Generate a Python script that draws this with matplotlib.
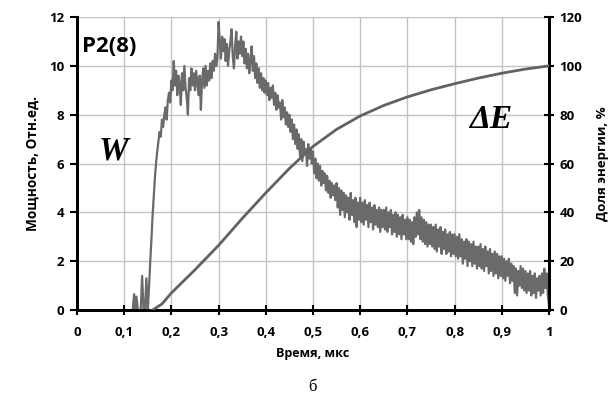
import numpy as np
import matplotlib
matplotlib.use("Agg")
import matplotlib.pyplot as plt

# Pre-pulse spikes before the main rise
spike_time = [0.118, 0.121, 0.124, 0.126, 0.129, 0.132, 0.135, 0.138, 0.141, 0.144, 0.147]
spike_power = [0.0, 0.65, 0.0, 0.55, 0.0, 0.0, 0.0, 1.4, 0.0, 0.0, 1.3]

# Power W, sampled every 0.0025 us from 0.15 to 1.0 us
power = [
    0.0, 0.9, 1.9, 2.8, 3.8, 4.6, 5.4, 6.0, 6.5, 6.9, 7.3, 7.1, 7.8, 7.5, 8.0, 8.3, 7.8, 8.6, 8.9, 8.5,
    9.4, 9.0, 10.2, 9.2, 9.8, 8.8, 9.6, 9.3, 8.4, 9.7, 9.0, 10.0, 9.1, 8.7, 8.0, 9.5, 9.0, 9.9, 9.2, 9.7,
    9.0, 9.8, 9.3, 8.8, 9.6, 8.2, 9.4, 9.9, 9.1, 10.0, 9.2, 9.8, 9.4, 10.1, 9.5, 10.2, 9.8, 10.5, 10.0, 10.3,
    11.8, 11.0, 10.3, 11.2, 10.6, 11.1, 10.2, 10.9, 10.0, 10.6, 11.0, 11.5, 10.4, 9.9, 10.8, 11.4, 10.3, 11.0, 10.5, 11.2,
    10.4, 11.0, 10.1, 10.7, 9.9, 10.5, 9.7, 10.2, 10.8, 9.8, 10.4, 9.5, 10.1, 9.3, 9.9, 9.1, 9.7, 9.0, 9.5, 8.9,
    9.4, 8.8, 9.3, 8.6, 9.1, 8.7, 9.2, 8.4, 8.9, 8.2, 8.8, 8.3, 8.5, 7.8, 8.6, 7.9, 8.3, 7.6, 8.1, 7.5,
    8.0, 7.3, 7.8, 7.0, 7.6, 6.8, 7.4, 6.6, 7.2, 6.3, 7.0, 6.1, 6.9, 6.4, 6.6, 5.9, 6.8, 6.2, 6.6, 6.0,
    6.5, 5.6, 6.2, 5.4, 6.0, 5.3, 5.9, 5.1, 5.7, 5.2, 5.6, 4.9, 5.5, 4.8, 5.3, 4.6, 5.2, 4.7, 5.1, 4.5,
    5.2, 4.2, 5.0, 3.9, 4.9, 4.1, 4.8, 3.8, 4.7, 4.0, 4.6, 3.7, 4.8, 3.9, 4.5, 3.6, 4.6, 3.4, 4.4, 3.7,
    4.6, 3.6, 4.4, 3.5, 4.5, 3.7, 4.3, 3.4, 4.4, 3.6, 4.2, 3.3, 4.3, 3.5, 4.1, 3.4, 4.2, 3.2, 4.1, 3.4,
    4.1, 3.3, 4.2, 3.2, 4.0, 3.4, 4.1, 3.1, 3.9, 3.2, 4.0, 3.0, 3.9, 3.1, 3.8, 2.9, 3.9, 3.1, 3.7, 2.9,
    3.8, 2.9, 3.7, 2.8, 3.6, 2.7, 3.8, 3.0, 4.0, 3.1, 4.1, 2.9, 3.8, 2.8, 3.7, 2.7, 3.6, 2.6, 3.5, 2.7,
    3.5, 2.6, 3.4, 2.5, 3.5, 2.4, 3.3, 2.6, 3.4, 2.3, 3.2, 2.5, 3.3, 2.3, 3.1, 2.4, 3.2, 2.2, 3.1, 2.3,
    3.1, 2.2, 3.0, 2.1, 3.1, 2.2, 2.9, 1.9, 2.8, 2.1, 2.9, 1.8, 2.8, 2.0, 2.7, 1.8, 2.8, 1.9, 2.6, 1.7,
    2.6, 1.8, 2.7, 1.7, 2.5, 1.6, 2.6, 1.8, 2.4, 1.5, 2.5, 1.6, 2.3, 1.4, 2.4, 1.5, 2.3, 1.3, 2.2, 1.4,
    2.2, 1.3, 2.1, 1.2, 2.0, 1.4, 2.1, 1.1, 1.9, 1.2, 1.8, 0.7, 1.7, 0.6, 1.6, 1.0, 1.8, 0.9, 1.7, 0.8,
    1.6, 0.7, 1.5, 0.8, 1.6, 0.6, 1.4, 0.7, 1.5, 0.5, 1.3, 0.8, 1.4, 0.6, 1.5, 0.7, 1.7, 0.9, 1.5, 0.6,
    0.2,
]
power_time = np.linspace(0.15, 1.0, len(power))

# Cumulative energy share, %
energy_time = [0.16, 0.18, 0.2, 0.25, 0.3, 0.35, 0.4, 0.45, 0.5, 0.55,
               0.6, 0.65, 0.7, 0.75, 0.8, 0.85, 0.9, 0.95, 1.0]
energy_share = [0.0, 2.5, 7.0, 16.5, 26.5, 37.5, 48.0, 58.0, 67.0, 74.0,
                79.5, 83.8, 87.3, 90.2, 92.7, 95.0, 97.0, 98.7, 100.0]

x_ticks = [0, 0.1, 0.2, 0.3, 0.4, 0.5, 0.6, 0.7, 0.8, 0.9, 1.0]
x_labels = ["0", "0,1", "0,2", "0,3", "0,4", "0,5", "0,6", "0,7", "0,8", "0,9", "1"]
w_ticks = [0, 2, 4, 6, 8, 10, 12]
e_ticks = [0, 20, 40, 60, 80, 100, 120]

plt.rcParams["font.family"] = ["Open Sans", "DejaVu Sans"]
plt.rcParams["font.weight"] = "bold"

fig = plt.figure(figsize=(6.11, 3.97), dpi=100)
ax = fig.add_axes([0.126, 0.219, 0.7725, 0.738])
ax2 = ax.twinx()

grid_color = "#cbbfbf"
line_color = "#6a6a6a"

ax.set_xlim(0, 1)
ax.set_ylim(0, 12)
ax2.set_ylim(0, 120)

ax.set_xticks(x_ticks)
ax.set_xticklabels(x_labels)
ax.set_yticks(w_ticks)
ax2.set_yticks(e_ticks)
ax.grid(True, color=grid_color, lw=1.0)
ax.set_axisbelow(True)

t_all = np.concatenate([spike_time, power_time])
p_all = np.concatenate([spike_power, power])
ax.plot(t_all, p_all, color=line_color, lw=1.6, zorder=3)
ax2.plot(energy_time, energy_share, color="#626262", lw=2.0, zorder=3)

for a in (ax, ax2):
    a.spines["top"].set_visible(False)
    for s in ("left", "right", "bottom"):
        a.spines[s].set_linewidth(2.0)
        a.spines[s].set_color("black")

ax.tick_params(axis="y", direction="out", length=5, width=1.5, labelsize=9.5, pad=4)
ax.tick_params(axis="x", direction="inout", length=7, width=1.5, labelsize=9.5, pad=8)
ax2.tick_params(axis="y", direction="inout", length=7, width=1.5, labelsize=9.5, pad=4)
for lab in ax.get_xticklabels() + ax.get_yticklabels() + ax2.get_yticklabels():
    lab.set_fontweight("bold")

ax.set_xlabel("Время, мкс", fontsize=9, fontweight="bold", labelpad=6)
ax.set_ylabel("Мощность, Отн.ед.", fontsize=9.8, fontweight="bold", labelpad=7)
ax2.set_ylabel("Доля энергии, %", fontsize=9.5, fontweight="bold", labelpad=10)

ax.text(0.01, 0.935, "P2(8)", transform=ax.transAxes, fontsize=16,
        fontweight="bold", va="top", ha="left")
ax.text(0.045, 0.515, "W", transform=ax.transAxes, fontsize=24,
        fontweight="bold", style="italic", family="Liberation Serif")
ax.text(0.83, 0.62, "ΔE", transform=ax.transAxes, fontsize=24,
        fontweight="bold", style="italic", family="Liberation Serif")

fig.text(0.512, 0.015, "б", fontsize=12, fontweight="normal",
         family="Liberation Serif", ha="center")

fig.savefig("out.png", dpi=100, facecolor="white")
